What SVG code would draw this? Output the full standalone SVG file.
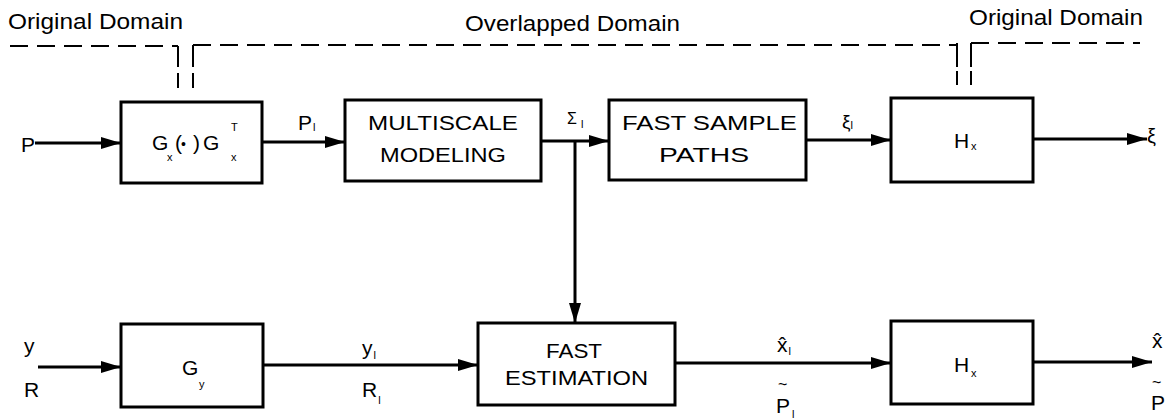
<svg xmlns="http://www.w3.org/2000/svg" width="1166" height="418" viewBox="0 0 1166 418">
<style>
text { font-family: "Liberation Sans", Arial, Helvetica, sans-serif; fill: #000; }
.lbl { font-size: 21px; }
.dom { font-size: 22px; }
.sub { font-size: 11px; }
.acc { font-size: 16px; }
.box { fill: #fff; stroke: #000; stroke-width: 3; }
.ln { fill: none; stroke: #000; stroke-width: 3; }
.dash { fill: none; stroke: #000; stroke-width: 2; stroke-dasharray: 18 9; }
.vd { fill: none; stroke: #000; stroke-width: 2; }
</style>
<defs>
<marker id="ah" markerUnits="userSpaceOnUse" markerWidth="20" markerHeight="12" refX="20" refY="6" orient="auto">
<path d="M0,0 L20,6 L0,12 z" fill="#000"/>
</marker>
</defs>
<rect width="1166" height="418" fill="#fff"/>

<g id="domains">
<text class="dom" x="8" y="29" textLength="175" lengthAdjust="spacingAndGlyphs">Original Domain</text>
<text class="dom" x="465" y="31" textLength="215" lengthAdjust="spacingAndGlyphs">Overlapped Domain</text>
<text class="dom" x="969" y="25" textLength="174" lengthAdjust="spacingAndGlyphs">Original Domain</text>
<path class="dash" d="M10,46 H178"/>
<path class="dash" d="M193,45 H957"/>
<path class="dash" d="M971,43 H1140"/>
<path class="vd" d="M178,46 V67 M178,73 V88 M193,45 V67 M193,73 V88"/>
<path class="vd" d="M957,43 V67 M957,71 V85 M971,43 V67 M971,71 V85"/>
</g>

<g id="connectors">
<path class="ln" d="M35,143 H121" marker-end="url(#ah)"/>
<path class="ln" d="M262,142 H345" marker-end="url(#ah)"/>
<path class="ln" d="M541,141 H609" marker-end="url(#ah)"/>
<path class="ln" d="M806,140 H891" marker-end="url(#ah)"/>
<path class="ln" d="M1033,139 H1147" marker-end="url(#ah)"/>
<path class="ln" d="M575,141 V323" marker-end="url(#ah)"/>
<path class="ln" d="M38,367 H121" marker-end="url(#ah)"/>
<path class="ln" d="M263,365 H478" marker-end="url(#ah)"/>
<path class="ln" d="M675,363 H891" marker-end="url(#ah)"/>
<path class="ln" d="M1033,362 H1152" marker-end="url(#ah)"/>
</g>

<g id="labels">
<text class="lbl" x="21" y="152">P</text>
<text class="lbl" x="298" y="130">P<tspan class="sub" dx="1" dy="1">l</tspan></text>
<text style="font-size:16px" x="567" y="124">Σ<tspan class="sub" dx="4" dy="4">l</tspan></text>
<text style="font-size:19px" x="842" y="128">ξ<tspan class="sub" dx="0" dy="1">l</tspan></text>
<text style="font-size:20px" x="1147" y="143">ξ</text>
<text class="lbl" x="24" y="353">y</text>
<text class="lbl" x="24" y="397">R</text>
<text class="lbl" x="362" y="355">y<tspan class="sub" dx="1" dy="4">l</tspan></text>
<text class="lbl" x="362" y="397">R<tspan class="sub" dx="1" dy="7">l</tspan></text>
<text class="lbl" x="777" y="352">x̂<tspan class="sub" dx="1" dy="3">l</tspan></text>
<text class="acc" x="778" y="390">~</text>
<text class="lbl" x="776" y="413">P<tspan class="sub" dx="2" dy="5">l</tspan></text>
<text class="lbl" x="1152" y="348">x̂</text>
<text class="acc" x="1152" y="388">~</text>
<text class="lbl" x="1151" y="410">P</text>
</g>

<g id="node-gx">
<rect class="box" x="121" y="102" width="141" height="81"/>
<text class="lbl" x="152" y="150">G</text><text class="sub" x="167" y="161">x</text>
<text class="lbl" x="175" y="150">(</text><text class="lbl" x="181" y="149" style="font-size:14px">•</text><text class="lbl" x="193" y="150">)</text>
<text class="lbl" x="203" y="150">G</text><text class="sub" x="231" y="161">x</text><text class="sub" x="231" y="131">T</text>
</g>

<g id="node-multiscale">
<rect class="box" x="345" y="100" width="196" height="81"/>
<text class="lbl" x="368" y="130" textLength="150" lengthAdjust="spacingAndGlyphs">MULTISCALE</text>
<text class="lbl" x="380" y="162" textLength="126" lengthAdjust="spacingAndGlyphs">MODELING</text>
</g>

<g id="node-fastsample">
<rect class="box" x="609" y="100" width="197" height="80"/>
<text class="lbl" x="622" y="130" textLength="175" lengthAdjust="spacingAndGlyphs">FAST SAMPLE</text>
<text class="lbl" x="659" y="162" textLength="90" lengthAdjust="spacingAndGlyphs">PATHS</text>
</g>

<g id="node-hx-top">
<rect class="box" x="891" y="98" width="142" height="84"/>
<text class="lbl" x="954" y="148">H</text><text class="sub" x="971" y="150">x</text>
</g>

<g id="node-gy">
<rect class="box" x="121" y="324" width="142" height="83"/>
<text class="lbl" x="182" y="375">G</text><text class="sub" x="199" y="388">y</text>
</g>

<g id="node-fastest">
<rect class="box" x="478" y="323" width="197" height="82"/>
<text class="lbl" x="546" y="358" textLength="56" lengthAdjust="spacingAndGlyphs">FAST</text>
<text class="lbl" x="505" y="385" textLength="143" lengthAdjust="spacingAndGlyphs">ESTIMATION</text>
</g>

<g id="node-hx-bottom">
<rect class="box" x="891" y="321" width="142" height="83"/>
<text class="lbl" x="954" y="372">H</text><text class="sub" x="971" y="377">x</text>
</g>
</svg>
